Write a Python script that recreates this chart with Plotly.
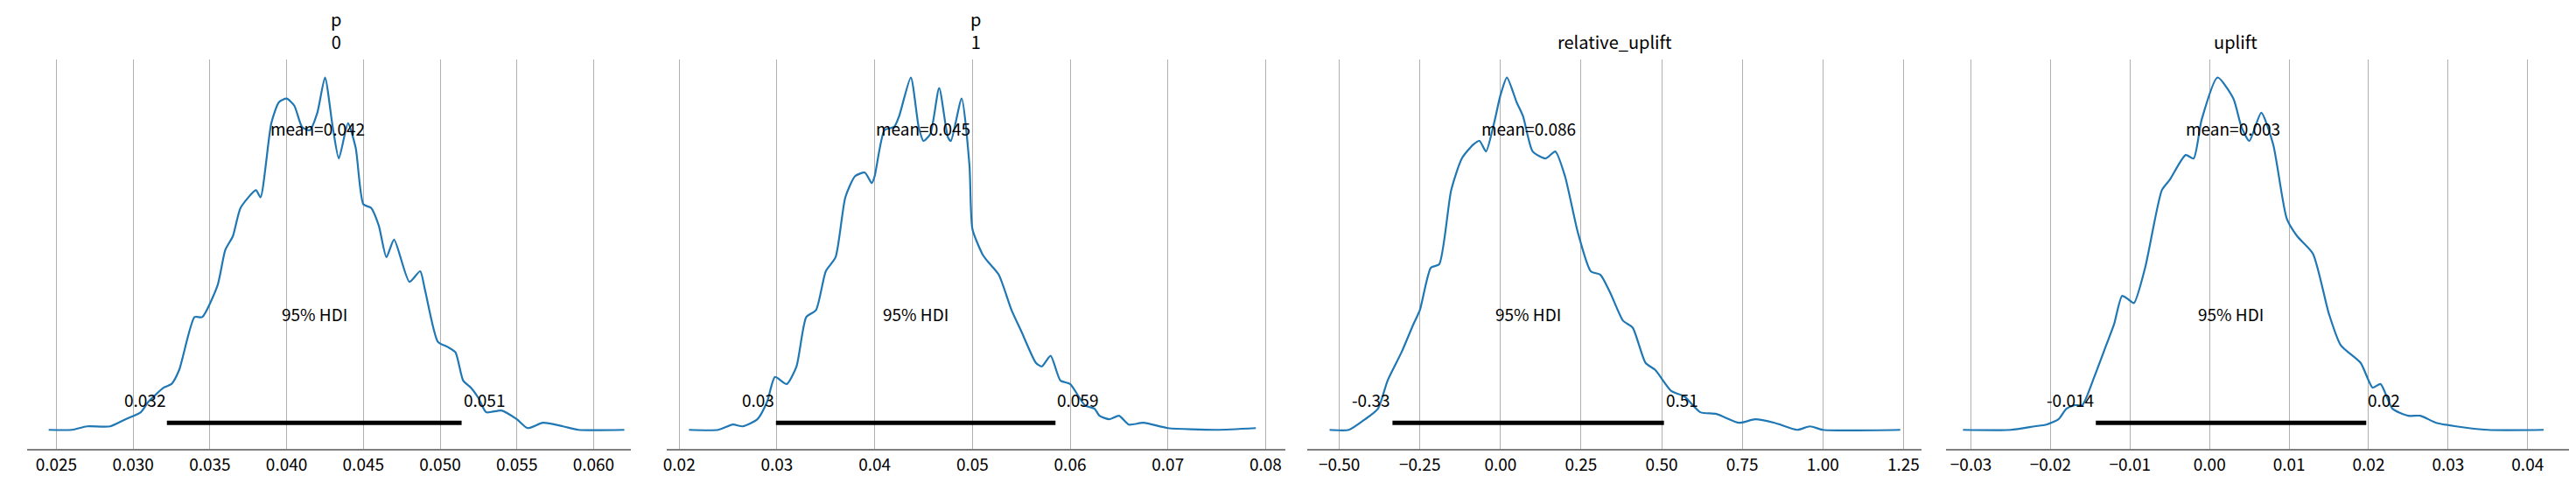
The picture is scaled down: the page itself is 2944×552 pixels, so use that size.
import plotly.graph_objects as go

FONT = "Noto Sans CJK JP"

titles = ["p<br>0", "p<br>1", "relative_uplift", "uplift"]
means = ["mean=0.042", "mean=0.045", "mean=0.086", "mean=0.003"]
mean_vals = [0.042, 0.045, 0.086, 0.003]
hdi_low = [0.0322, 0.0299, -0.335, -0.0143]
hdi_high = [0.0514, 0.0585, 0.507, 0.0197]
hdi_low_lbl = ["0.032", "0.03", "-0.33", "-0.014"]
hdi_high_lbl = ["0.051", "0.059", "0.51", "0.02"]

p0_x = [0.0245,0.026,0.027,0.0285,0.0295,0.0305,0.031,0.032,0.0325,0.033,0.034,0.0345,0.0355,0.036,0.0365,0.037,0.038,0.0383,0.039,0.0395,0.040,0.0405,0.041,0.0415,0.042,0.0425,0.043,0.0434,0.044,0.0445,0.045,0.0455,0.046,0.0465,0.047,0.048,0.0487,0.049,0.04985,0.0505,0.051,0.0515,0.052,0.0525,0.053,0.054,0.055,0.0557,0.0567,0.058,0.059,0.062]
p0_d = [0.0,0.0,0.01,0.01,0.03,0.05,0.08,0.12,0.13,0.17,0.32,0.32,0.41,0.51,0.55,0.63,0.68,0.66,0.87,0.93,0.94,0.92,0.86,0.85,0.90,1.0,0.86,0.77,0.87,0.80,0.64,0.63,0.58,0.49,0.54,0.42,0.45,0.40,0.25,0.235,0.22,0.14,0.12,0.09,0.05,0.055,0.03,0.005,0.02,0.01,0.0,0.0]

p1_x = [0.021,0.024,0.0255,0.0265,0.028,0.029,0.0298,0.031,0.032,0.033,0.034,0.035,0.036,0.037,0.038,0.039,0.0397,0.040,0.041,0.042,0.0425,0.0437,0.0445,0.045,0.0457,0.0466,0.0475,0.0478,0.0489,0.0497,0.050,0.051,0.0515,0.0527,0.054,0.055,0.0565,0.0571,0.058,0.059,0.060,0.0615,0.0625,0.063,0.064,0.065,0.066,0.0675,0.070,0.075,0.079]
p1_d = [0.0,0.0,0.015,0.01,0.03,0.08,0.15,0.13,0.18,0.32,0.34,0.45,0.49,0.66,0.72,0.73,0.70,0.72,0.85,0.86,0.89,1.0,0.86,0.82,0.84,0.97,0.83,0.82,0.94,0.75,0.57,0.50,0.48,0.44,0.34,0.28,0.19,0.18,0.21,0.14,0.13,0.07,0.06,0.04,0.03,0.04,0.015,0.02,0.005,0.0,0.005]

ru_x = [-0.53,-0.47,-0.42,-0.38,-0.35,-0.307,-0.27,-0.25,-0.216,-0.19,-0.153,-0.12,-0.084,-0.065,-0.045,-0.02,0.0,0.02,0.05,0.07,0.10,0.14,0.17,0.20,0.24,0.28,0.31,0.34,0.38,0.41,0.45,0.48,0.53,0.57,0.62,0.67,0.74,0.79,0.85,0.92,0.96,1.00,1.24]
ru_d = [0.0,0.0,0.03,0.06,0.14,0.22,0.30,0.34,0.46,0.47,0.68,0.77,0.81,0.82,0.79,0.87,0.95,1.0,0.93,0.89,0.79,0.77,0.79,0.72,0.56,0.45,0.44,0.39,0.31,0.29,0.19,0.17,0.11,0.095,0.05,0.045,0.02,0.03,0.02,0.0,0.01,0.0,0.0]

up_x = [-0.031,-0.025,-0.022,-0.0205,-0.019,-0.018,-0.017,-0.016,-0.0145,-0.013,-0.012,-0.011,-0.0102,-0.0095,-0.0081,-0.006,-0.005,-0.003,-0.002,-0.001,0.001,0.003,0.004,0.005,0.0065,0.008,0.0097,0.011,0.013,0.015,0.0165,0.019,0.0205,0.0215,0.023,0.025,0.0265,0.0285,0.031,0.035,0.042]
up_d = [0.0,0.0,0.01,0.015,0.03,0.06,0.07,0.07,0.15,0.24,0.30,0.38,0.37,0.36,0.46,0.68,0.71,0.78,0.77,0.88,1.0,0.94,0.86,0.82,0.90,0.81,0.60,0.55,0.50,0.33,0.24,0.19,0.12,0.13,0.06,0.04,0.04,0.02,0.01,0.0,0.0]

xs = [p0_x, p1_x, ru_x, up_x]
ds = [p0_d, p1_d, ru_d, up_d]
ranges = [[0.0231, 0.0624], [0.0187, 0.0820], [-0.60, 1.307], [-0.0331, 0.0455]]
tickvals = [[0.025,0.030,0.035,0.040,0.045,0.050,0.055,0.060],
            [0.02,0.03,0.04,0.05,0.06,0.07,0.08],
            [-0.5,-0.25,0,0.25,0.5,0.75,1.0,1.25],
            [-0.03,-0.02,-0.01,0,0.01,0.02,0.03,0.04]]
ticktext = [["0.025","0.030","0.035","0.040","0.045","0.050","0.055","0.060"],
            ["0.02","0.03","0.04","0.05","0.06","0.07","0.08"],
            ["\u22120.50","\u22120.25","0.00","0.25","0.50","0.75","1.00","1.25"],
            ["\u22120.03","\u22120.02","\u22120.01","0.00","0.01","0.02","0.03","0.04"]]
domains = [[0.0065, 0.241], [0.255, 0.4955], [0.504, 0.743], [0.7525, 0.9955]]

fig = go.Figure()
layout = dict(width=2944, height=552, paper_bgcolor="white", plot_bgcolor="white",
              margin=dict(l=0, r=0, t=60, b=47), showlegend=False,
              font=dict(family=FONT, size=19, color="black"))
ann = []
for i in range(4):
    xa = "x" if i == 0 else f"x{i+1}"
    ya = "y" if i == 0 else f"y{i+1}"
    fig.add_trace(go.Scatter(x=xs[i], y=ds[i], mode="lines", xaxis=xa, yaxis=ya,
                             line=dict(color="#1f77b4", width=2.2, shape="spline", smoothing=0.6)))
    fig.add_trace(go.Scatter(x=[hdi_low[i], hdi_high[i]], y=[0.02, 0.02], mode="lines",
                             xaxis=xa, yaxis=ya, line=dict(color="black", width=5)))
    key = "" if i == 0 else str(i+1)
    layout["xaxis" + key] = dict(domain=domains[i], range=ranges[i], anchor=ya,
                                tickvals=tickvals[i], ticktext=ticktext[i],
                                showgrid=True, gridcolor="#b0b0b0", gridwidth=1,
                                showline=True, linecolor="#808080", linewidth=1.5,
                                ticks="", zeroline=False, tickfont=dict(size=19))
    layout["yaxis" + key] = dict(range=[-0.054, 1.051], anchor=xa, visible=False, showgrid=False)
    mid = (hdi_low[i] + hdi_high[i]) / 2
    ann += [
        dict(x=mean_vals[i], y=0.856, xref=xa, yref=ya, text=means[i], showarrow=False, font=dict(size=19)),
        dict(x=mid, y=0.33, xref=xa, yref=ya, text="95% HDI", showarrow=False, font=dict(size=19)),
        dict(x=hdi_low[i], y=0.087, xref=xa, yref=ya, text=hdi_low_lbl[i], showarrow=False,
             xanchor="right", font=dict(size=19)),
        dict(x=hdi_high[i], y=0.087, xref=xa, yref=ya, text=hdi_high_lbl[i], showarrow=False,
             xanchor="left", font=dict(size=19)),
        dict(x=sum(domains[i]) / 2, y=1.0, xref="paper", yref="paper", yanchor="bottom", yshift=4,
             text=titles[i], showarrow=False, font=dict(size=20)),
    ]
layout["annotations"] = ann
fig.update_layout(**layout)
fig.write_html("out.html")
